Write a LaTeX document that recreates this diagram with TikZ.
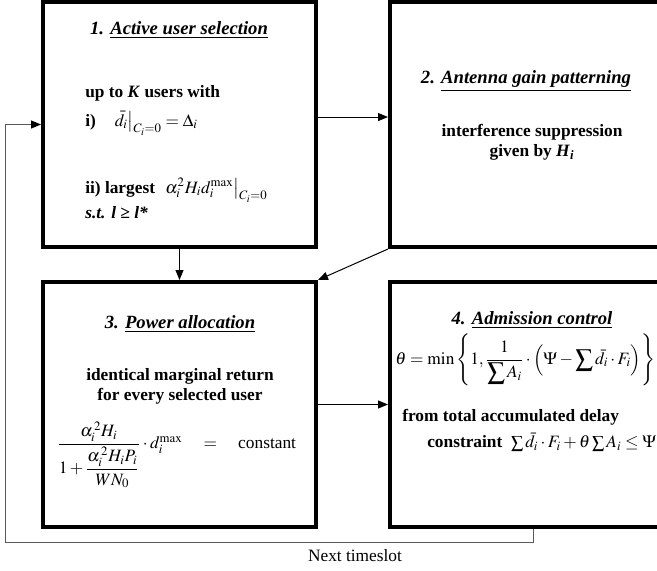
\documentclass[tikz,border=0pt]{standalone}
\usepackage{amsmath}
\usepackage{mathptmx}
\usepackage{fontspec}
\setmainfont{Liberation Serif}
\usepackage{tikz}
\usetikzlibrary{positioning,arrows.meta}
\tikzset{blk/.style={draw,line width=3pt,inner sep=0pt,minimum width=204.75pt,minimum height=183.75pt},
	hd/.style={font=\fontsize{14}{16}\selectfont\bfseries\itshape},
	bd/.style={font=\fontsize{13}{15}\selectfont\bfseries,inner sep=0pt},
	flow/.style={-{Triangle[length=7.5pt,width=6pt,black]},line width=0.75pt}}

\begin{document}
\begin{tikzpicture}[x=0.75pt,y=-0.75pt]
	\useasboundingbox (0,0) rectangle (657,571);
	\clip (0,0) rectangle (657,571);
	% the four stages
	\node[blk] (sel) at (179.5,124.5) {};
	\node[blk,minimum width=214.5pt] (ant) at (533,124.5) {};
	\node[blk] (pow) at (179.5,404.5) {};
	\node[blk,minimum width=214.5pt] (adm) at (533,404.5) {};
	
	\foreach \pos/\nm/\ttl in {(179,30)/t1/{1. \underline{Active user selection}},
			(526,81)/t2/{2. \underline{Antenna gain patterning}},
			(180,324)/t3/{3. \underline{Power allocation}},
			(532,320)/t4/{4. \underline{Admission control}}}{
		\node[hd] (\nm) at \pos {\ttl};
	}
	
	\node[bd,anchor=base west] (s1) at (85,97) {up to \textit{K} users with};
	\node[bd,anchor=base west] (s2) at (85,126) {i)\quad $\left.\bar{d}_i\right|_{C_i=0}=\Delta_i$};
	\node[bd,anchor=base west] (s3) at (85,193) {ii) largest\enspace $\left.\alpha_i^2H_id_i^{\max}\right|_{C_i=0}$};
	\node[bd,anchor=base west] (s4) at (85,218) {\textit{s.t. l ≥ l*}};
	
	\node[bd,align=center] (a1) at (532,142) {interference suppression\\given by \textit{H}\textsubscript{\textit{i}}};
	
	\node[bd,align=center] (p1) at (180,386) {identical marginal return\\for every selected user};
	\node[bd,anchor=west] (p2) at (57,455) {$\dfrac{\alpha_i^{\,2}H_i}{1+\dfrac{\alpha_i^{\,2}H_iP_i}{WN_0}}\cdot d_i^{\max}\quad=\quad\textnormal{constant}$};
	
	\node[bd,anchor=west] (d1) at (395,360) {$\theta=\min\left\{1,\dfrac{1}{\displaystyle\sum A_i}\cdot\Bigl(\Psi-\displaystyle\sum\nolimits\bar{d}_i\cdot F_i\Bigr)\right\}$};
	\node[bd,anchor=west] (d2) at (402,417) {from total accumulated delay};
	\node[bd,anchor=west] (d3) at (427,442) {constraint\enspace $\sum\bar{d}_i\cdot F_i+\theta\sum A_i\le\Psi$};
	
	% connectors
	\draw[flow] ([yshift=5.6pt]sel.east) -- ([yshift=5.6pt]ant.west);
	\draw[flow] (sel.south) -- (pow.north);
	\draw[flow] (ant.south west) -- (pow.north east);
	\draw[flow] (pow.east) -- (adm.west);
	\coordinate (back) at (5.5,542);
	\draw[flow,draw=black!65] (adm.south) |- (back) |- (sel.west);
	\node[font=\fontsize{13}{15}\selectfont] (nxt) at (355,556) {Next timeslot};
\end{tikzpicture}
\end{document}
